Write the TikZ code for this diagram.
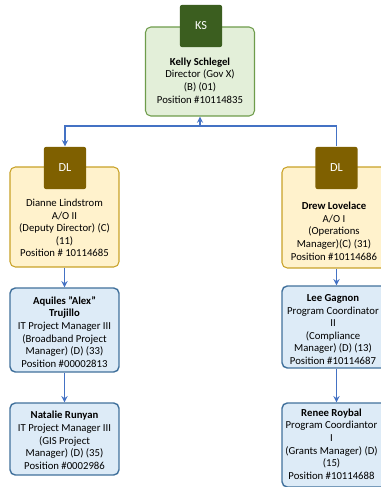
\documentclass[tikz,border=0pt]{standalone}
\usepackage{fontspec}
\setmainfont{Carlito}
\usetikzlibrary{positioning}

\definecolor{badgegreen}{HTML}{3B5E1F}
\definecolor{fillgreen}{HTML}{E3EFD9}
\definecolor{edgegreen}{HTML}{6E9C4B}
\definecolor{badgebrown}{HTML}{7F6000}
\definecolor{fillyellow}{HTML}{FFF2CC}
\definecolor{edgeyellow}{HTML}{C9A227}
\definecolor{fillblue}{HTML}{DDEBF7}
\definecolor{edgeblue}{HTML}{41719C}
\definecolor{linkblue}{HTML}{4472C4}

\tikzset{card/.style={draw,rounded corners=3pt,minimum width=2.18cm,line width=0.6pt}}
\tikzset{gcard/.style={card,fill=fillgreen,draw=edgegreen}}
\tikzset{ycard/.style={card,fill=fillyellow,draw=edgeyellow}}
\tikzset{bcard/.style={card,fill=fillblue,draw=edgeblue,line width=0.8pt}}
\tikzset{badge/.style={minimum size=0.85cm,rounded corners=1.5pt,text=white,font=\fontsize{7}{8}\selectfont}}
\tikzset{info/.style={align=center,inner sep=0pt,font=\fontsize{6.1}{7.2}\selectfont}}
\tikzset{elink/.style={->,>=stealth,draw=linkblue,line width=0.6pt}}

\begin{document}
\begin{tikzpicture}[x=0.02cm,y=-0.02cm]
        \useasboundingbox[fill=white] (0,0) rectangle (380,487);
        % director
        \node[gcard,minimum height=1.78cm] (ks) at (200,71.5) {};
        \node[badge,fill=badgegreen] (kssq) at (201,26) {KS};
        \node[info] (kstext) at (200,80.5) {\textbf{Kelly Schlegel}\\Director (Gov X)\\(B) (01)\\Position \#10114835};
        % deputies
        \node[ycard,minimum height=2cm] (dl1) at (64.5,217) {};
        \node[badge,fill=badgebrown] (dl1sq) at (65,168) {DL};
        \node[info] (dl1text) at (64.5,228) {Dianne Lindstrom\\A/O II\\(Deputy Director) (C)\\(11)\\Position \# 10114685};
        \node[ycard,minimum height=2.02cm] (dl2) at (336.5,217.5) {};
        \node[badge,fill=badgebrown] (dl2sq) at (336.5,168) {DL};
        \node[info] (dl2text) at (334,231) {\textbf{Drew Lovelace}\\A/O I\\(Operations\\Manager)(C) (31)\\Position \#10114686};
        % left column
        \node[bcard,minimum height=1.68cm] (alex) at (64.5,330) {};
        \node[info] (alextext) at (64.5,332) {\textbf{Aquiles "Alex"}\\\textbf{Trujillo}\\IT Project Manager III\\(Broadband Project\\Manager) (D) (33)\\Position \#00002813};
        \node[bcard,minimum height=1.44cm] (nat) at (64.5,439) {};
        \node[info] (nattext) at (64.5,440.5) {\textbf{Natalie Runyan}\\IT Project Manager III\\(GIS Project\\Manager) (D) (35)\\Position \#0002986};
        % right column
        \node[bcard,minimum height=1.64cm] (lee) at (336.5,327) {};
        \node[info] (leetext) at (333,329.5) {\textbf{Lee Gagnon}\\Program Coordinator\\II\\(Compliance\\Manager) (D) (13)\\Position \#10114687};
        \node[bcard,minimum height=1.68cm] (renee) at (336.5,445) {};
        \node[info] (reneetext) at (331.5,444) {\textbf{Renee Roybal}\\Program Coordiantor\\I\\(Grants Manager) (D)\\(15)\\Position \#10114688};

        % connectors
        \coordinate (bus) at (200,126);
        \draw[elink] (dl2sq.north) |- (bus) -- (ks.south);
        \draw[elink] (bus) -| (dl1sq.north);
        \draw[elink] (dl1.south) -- (alex.north);
        \draw[elink] (alex.south) -- (nat.north);
        \draw[elink] (dl2.south) -- (lee.north);
        \draw[elink] (lee.south) -- (renee.north);
    \end{tikzpicture}
\end{document}
